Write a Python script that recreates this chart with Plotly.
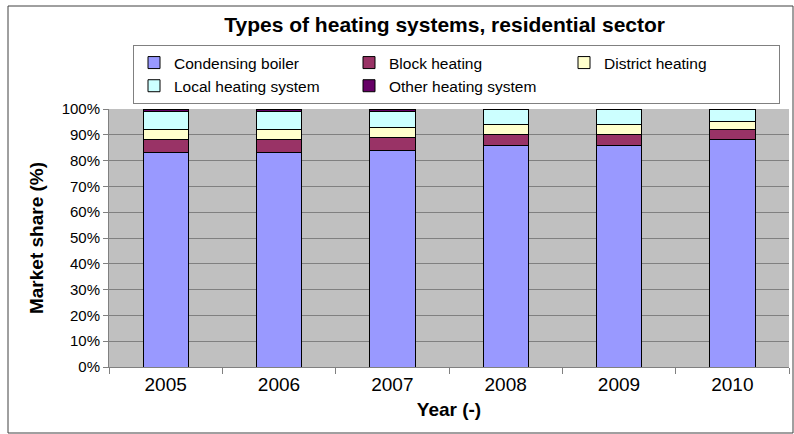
import plotly.graph_objects as go

years = ["2005", "2006", "2007", "2008", "2009", "2010"]
condensing = [83, 83, 84, 86, 86, 88]
block = [5, 5, 5, 4, 4, 4]
district = [4, 4, 4, 4, 4, 3]
local = [7, 7, 6, 6, 6, 5]
other = [1, 1, 1, 0, 0, 0]

series = [
    ("Condensing boiler", condensing, "#9999FF"),
    ("Block heating", block, "#993366"),
    ("District heating", district, "#FFFFCC"),
    ("Local heating system", local, "#CCFFFF"),
    ("Other heating system", other, "#660066"),
]

W, H = 794, 434
L, R, T, B = 109, 5, 109, 67
pw, ph = W - L - R, H - T - B

fig = go.Figure()
for name, vals, col in series:
    fig.add_trace(go.Bar(
        x=years, y=vals, name=name,
        marker=dict(color=col, line=dict(color="#000000", width=1)),
    ))

font = "Liberation Sans, Arial, sans-serif"

def px_x(p):
    return (p - L) / pw

def px_y(p):
    return (H - B - p) / ph

fig.update_layout(
    width=W, height=H,
    margin=dict(l=L, r=R, t=T, b=B, pad=0, autoexpand=False),
    barmode="stack", bargap=0.6,
    paper_bgcolor="white", plot_bgcolor="#C0C0C0",
    font=dict(family=font, color="#000000"),
    title=dict(text="<b>Types of heating systems, residential sector</b>",
               x=0.56, xanchor="center", y=1 - 25 / H, yanchor="middle",
               font=dict(size=21, family=font)),
    legend=dict(orientation="h", xref="container", yref="container",
                x=133 / W, y=1 - 45 / H, xanchor="left", yanchor="top",
                bgcolor="white", bordercolor="#808080", borderwidth=1,
                font=dict(size=15.5, family=font), traceorder="normal",
                entrywidth=170, itemwidth=30, tracegroupgap=0),
    showlegend=True,
    xaxis=dict(showgrid=False, ticks="outside", tickson="boundaries", ticklen=6,
               tickcolor="#808080", showline=True, linecolor="#808080", linewidth=1,
               tickfont=dict(size=19), title=dict(text="<b>Year (-)</b>", font=dict(size=19), standoff=8)),
    yaxis=dict(range=[0, 100], dtick=10, ticksuffix="%", showgrid=True, gridcolor="#808080",
               gridwidth=1, ticks="outside", ticklen=5, tickcolor="#808080",
               showline=True, linecolor="#808080", linewidth=1, zeroline=False,
               tickfont=dict(size=15),
               title=dict(text="<b>Market share (%)</b>", font=dict(size=19), standoff=12)),
    shapes=[dict(type="rect", xref="paper", yref="paper",
                 x0=px_x(8), x1=px_x(793), y0=px_y(433), y1=px_y(6),
                 line=dict(color="#404040", width=1), fillcolor="rgba(0,0,0,0)", layer="below")],
)

fig.write_html("out.html")
